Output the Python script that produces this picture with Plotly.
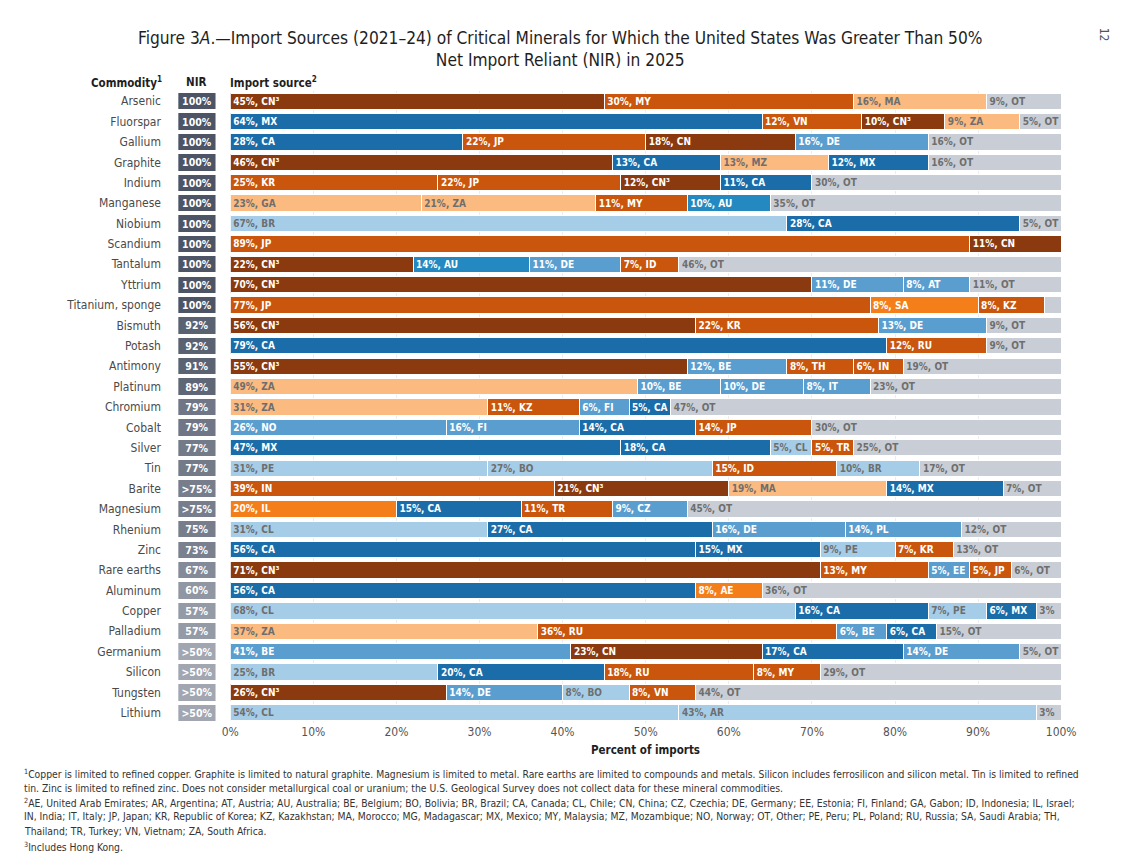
import plotly.graph_objects as go

W, H = 1132, 854
FONT = "DejaVu Sans Condensed, Liberation Sans Narrow, Arial Narrow, sans-serif"

commodities = ["Arsenic", "Fluorspar", "Gallium", "Graphite", "Indium", "Manganese", "Niobium",
               "Scandium", "Tantalum", "Yttrium", "Titanium, sponge", "Bismuth", "Potash",
               "Antimony", "Platinum", "Chromium", "Cobalt", "Silver", "Tin", "Barite",
               "Magnesium", "Rhenium", "Zinc", "Rare earths", "Aluminum", "Copper",
               "Palladium", "Germanium", "Silicon", "Tungsten", "Lithium"]

nir_labels = ["100%"] * 11 + ["92%", "92%", "91%", "89%", "79%", "79%", "77%", "77%", ">75%",
                              ">75%", "75%", "73%", "67%", "60%", "57%", "57%", ">50%", ">50%",
                              ">50%", ">50%"]
nir_values = [100] * 11 + [92, 92, 91, 89, 79, 79, 77, 77, 75, 75, 75, 73, 67, 60, 57, 57,
                           50, 50, 50, 50]

shares = [
    [45, 30, 16, 9], [64, 12, 10, 9, 5], [28, 22, 18, 16, 16], [46, 13, 13, 12, 16],
    [25, 22, 12, 11, 30], [23, 21, 11, 10, 35], [67, 28, 5], [89, 11], [22, 14, 11, 7, 46],
    [70, 11, 8, 11], [77, 13, 8], [56, 22, 13, 9], [79, 12, 9], [55, 12, 8, 6, 19],
    [49, 10, 10, 8, 23], [31, 11, 6, 5, 47], [26, 16, 14, 14, 30], [47, 18, 5, 5, 25],
    [31, 27, 15, 10, 17], [39, 21, 19, 14, 7], [20, 15, 11, 9, 45], [31, 27, 16, 14, 12],
    [56, 15, 9, 7, 13], [71, 13, 5, 5, 6], [56, 8, 36], [68, 16, 7, 6, 3], [37, 36, 6, 6, 15],
    [41, 23, 17, 14, 5], [25, 20, 18, 8, 29], [26, 14, 8, 8, 44], [54, 43, 3],
]

sources = [
    ["CN³", "MY", "MA", "OT"], ["MX", "VN", "CN³", "ZA", "OT"], ["CA", "JP", "CN", "DE", "OT"],
    ["CN³", "CA", "MZ", "MX", "OT"], ["KR", "JP", "CN³", "CA", "OT"], ["GA", "ZA", "MY", "AU", "OT"],
    ["BR", "CA", "OT"], ["JP", "CN"], ["CN³", "AU", "DE", "ID", "OT"], ["CN³", "DE", "AT", "OT"],
    ["JP", "SA", "KZ"], ["CN³", "KR", "DE", "OT"], ["CA", "RU", "OT"], ["CN³", "BE", "TH", "IN", "OT"],
    ["ZA", "BE", "DE", "IT", "OT"], ["ZA", "KZ", "FI", "CA", "OT"], ["NO", "FI", "CA", "JP", "OT"],
    ["MX", "CA", "CL", "TR", "OT"], ["PE", "BO", "ID", "BR", "OT"], ["IN", "CN³", "MA", "MX", "OT"],
    ["IL", "CA", "TR", "CZ", "OT"], ["CL", "CA", "DE", "PL", "OT"], ["CA", "MX", "PE", "KR", "OT"],
    ["CN³", "MY", "EE", "JP", "OT"], ["CA", "AE", "OT"], ["CL", "CA", "PE", "MX", ""],
    ["ZA", "RU", "BE", "CA", "OT"], ["BE", "CN", "CA", "DE", "OT"], ["BR", "CA", "RU", "MY", "OT"],
    ["CN³", "DE", "BO", "VN", "OT"], ["CL", "AR", ""],
]

# the printed label differs from the drawn segment width in the source figure
label_override = {(10, 1): "8%, SA"}

tick_values = list(range(0, 101, 10))
tick_labels = [f"{v}%" for v in tick_values]

region_colors = {
    "china": "#8A3A0E", "asia": "#C9560C", "mideast": "#F47E1A", "africa": "#FBBA80",
    "namerica": "#1A6DA8", "europe": "#5A9ECF", "oceania": "#2389C0", "samerica": "#A6CDE8",
    "other": "#C9CED6",
}
region_of = {
    "CN": "china", "JP": "asia", "KR": "asia", "MY": "asia", "VN": "asia", "KZ": "asia",
    "IN": "asia", "ID": "asia", "TH": "asia", "RU": "asia", "TR": "asia",
    "SA": "mideast", "IL": "mideast", "AE": "mideast",
    "ZA": "africa", "MA": "africa", "GA": "africa", "MZ": "africa",
    "CA": "namerica", "MX": "namerica",
    "DE": "europe", "BE": "europe", "FI": "europe", "NO": "europe", "AT": "europe",
    "EE": "europe", "IT": "europe", "PL": "europe", "CZ": "europe",
    "AU": "oceania",
    "BR": "samerica", "CL": "samerica", "PE": "samerica", "BO": "samerica", "AR": "samerica",
    "OT": "other", "": "other",
}
dark_regions = {"china", "asia", "mideast", "namerica", "europe", "oceania"}

fig = go.Figure()
fig.add_trace(go.Bar(
    y=commodities, x=[1] * len(commodities), orientation="h", xaxis="x2", yaxis="y",
    marker=dict(color=nir_values, cmin=50, cmax=100,
                colorscale=[[0, "#A1A6B1"], [1, "#4C5465"]], line=dict(width=0)),
    text=nir_labels, textposition="inside", insidetextanchor="middle",
    textfont=dict(family=FONT, size=10.5, color="white", weight="bold"),
    hoverinfo="skip", showlegend=False,
))

max_len = max(len(s) for s in shares) + 1
for k in range(max_len):
    xs, cols, txts, tcols = [], [], [], []
    for i, (sh, src) in enumerate(zip(shares, sources)):
        if k < len(sh):
            code = src[k]
            reg = region_of[code.replace("³", "")]
            xs.append(sh[k])
            cols.append(region_colors[reg])
            lab = f"{sh[k]}%, {code}" if code else f"{sh[k]}%"
            txts.append(label_override.get((i, k), lab))
            tcols.append("white" if reg in dark_regions else "#6E6E6E")
        elif k == len(sh) and 100 - sum(sh) > 0:
            xs.append(100 - sum(sh)); cols.append(region_colors["other"])
            txts.append(None); tcols.append("#6E6E6E")
        else:
            xs.append(None); cols.append(region_colors["other"])
            txts.append(None); tcols.append("#6E6E6E")
    if all(v is None for v in xs):
        continue
    fig.add_trace(go.Bar(
        y=commodities, x=xs, orientation="h", xaxis="x", yaxis="y",
        marker=dict(color=cols, line=dict(color="white", width=1)),
        text=txts, textposition="inside", insidetextanchor="start",
        textfont=dict(family=FONT, size=10, color=tcols, weight="bold"),
        constraintext="none", cliponaxis=False,
        hoverinfo="skip", showlegend=False,
    ))

def px(x):
    return x / W

def py(y):
    return 1 - y / H

fig.update_layout(
    width=W, height=H, margin=dict(l=0, r=0, t=0, b=0),
    paper_bgcolor="white", plot_bgcolor="white",
    barmode="stack", bargap=0.2,
    uniformtext=dict(minsize=10, mode="show"),
    font=dict(family=FONT, color="#333"),
    xaxis=dict(domain=[px(226), px(1075)], range=[0, 100], anchor="y",
               tickvals=tick_values, ticktext=tick_labels,
               tickfont=dict(size=12, color="#555", family=FONT),
               showgrid=True, gridcolor="#EDEDED", gridwidth=1, zeroline=False,
               showline=False, ticks="", fixedrange=True),
    xaxis2=dict(domain=[px(173), px(211)], range=[0, 1], anchor="y",
                visible=False, fixedrange=True),
    yaxis=dict(domain=[py(723), py(91)], anchor="x2", type="category",
               categoryorder="array", categoryarray=commodities, autorange="reversed",
               tickfont=dict(size=12, color="#4A4A4A", family=FONT),
               ticks="outside", ticklen=14, tickcolor="rgba(0,0,0,0)",
               showgrid=False, zeroline=False, showline=False, fixedrange=True),
)

ann = []
ann.append(dict(x=px(563), y=py(49), xref="paper", yref="paper", showarrow=False,
                xanchor="center", yanchor="middle",
                text="Figure 3<i>A</i>.—Import Sources (2021–24) of Critical Minerals for Which the United States Was Greater Than 50%<br>Net Import Reliant (NIR) in 2025",
                font=dict(size=17.2, color="#1E1E1E", family=FONT)))
ann.append(dict(x=px(1119), y=py(35), xref="paper", yref="paper", showarrow=False,
                xanchor="center", yanchor="middle", textangle=90, text="12",
                font=dict(size=12, color="#555", family=FONT)))
hdr = dict(size=11.5, color="#1E1E1E", family=FONT, weight="bold")
ann.append(dict(x=px(158), y=py(82), xref="paper", yref="paper", showarrow=False,
                xanchor="right", yanchor="middle", text="Commodity<sup>1</sup>", font=hdr))
ann.append(dict(x=px(192), y=py(82), xref="paper", yref="paper", showarrow=False,
                xanchor="center", yanchor="middle", text="NIR", font=hdr))
ann.append(dict(x=px(224), y=py(82), xref="paper", yref="paper", showarrow=False,
                xanchor="left", yanchor="middle", text="Import source<sup>2</sup>", font=hdr))
ann.append(dict(x=px(650), y=py(750), xref="paper", yref="paper", showarrow=False,
                xanchor="center", yanchor="middle", text="Percent of imports", font=hdr))

notes = [
    "<sup>1</sup>Copper is limited to refined copper. Graphite is limited to natural graphite. Magnesium is limited to metal. Rare earths are limited to compounds and metals. Silicon includes ferrosilicon and silicon metal. Tin is limited to refined",
    "tin. Zinc is limited to refined zinc. Does not consider metallurgical coal or uranium; the U.S. Geological Survey does not collect data for these mineral commodities.",
    "<sup>2</sup>AE, United Arab Emirates; AR, Argentina; AT, Austria; AU, Australia; BE, Belgium; BO, Bolivia; BR, Brazil; CA, Canada; CL, Chile; CN, China; CZ, Czechia; DE, Germany; EE, Estonia; FI, Finland; GA, Gabon; ID, Indonesia; IL, Israel;",
    "IN, India; IT, Italy; JP, Japan; KR, Republic of Korea; KZ, Kazakhstan; MA, Morocco; MG, Madagascar; MX, Mexico; MY, Malaysia; MZ, Mozambique; NO, Norway; OT, Other; PE, Peru; PL, Poland; RU, Russia; SA, Saudi Arabia; TH,",
    "Thailand; TR, Turkey; VN, Vietnam; ZA, South Africa.",
    "<sup>3</sup>Includes Hong Kong.",
]
note_y = [773, 788, 802, 816, 831, 846]
for t, yy in zip(notes, note_y):
    ann.append(dict(x=px(13), y=py(yy), xref="paper", yref="paper", showarrow=False,
                    xanchor="left", yanchor="middle", text=t,
                    font=dict(size=10.3, color="#333", family=FONT)))

fig.update_layout(annotations=ann)
fig.write_html("out.html", config={"displayModeBar": False},
               post_script="document.body.style.margin='0px';document.body.style.overflow='hidden';")
